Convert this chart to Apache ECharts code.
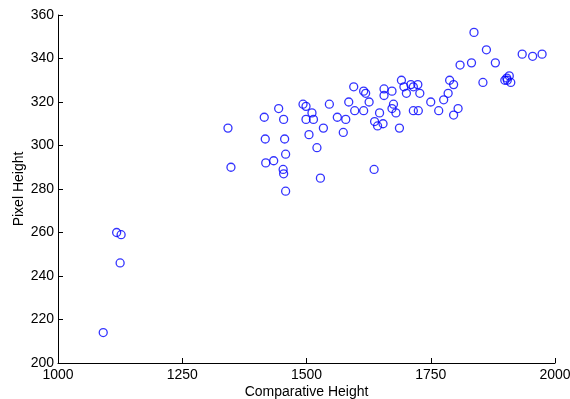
<!DOCTYPE html>
<html>
<head>
<meta charset="utf-8">
<script src="https://cdn.jsdelivr.net/npm/echarts@6/dist/echarts.min.js"></script>
<style>
  html, body { margin: 0; padding: 0; background: #fff; }
  #chart { width: 570px; height: 399px; }
</style>
</head>
<body>
<div id="chart"></div>
<script>
// comparative height vs pixel height, one entry per point
const comparative = [
  1091, 1118, 1127, 1125, 1342, 1348, 1415, 1417, 1418, 1434,
  1444, 1454, 1456, 1458, 1453, 1454, 1458, 1493, 1499, 1511,
  1499, 1514, 1505, 1534, 1521, 1528, 1546, 1562, 1579, 1574,
  1585, 1595, 1597, 1615, 1619, 1626, 1615, 1636, 1637, 1643,
  1654, 1647, 1656, 1656, 1672, 1675, 1672, 1680, 1687, 1691,
  1696, 1701, 1710, 1715, 1724, 1728, 1715, 1725, 1750, 1766,
  1776, 1785, 1788, 1796, 1805, 1796, 1809, 1832, 1837, 1855,
  1862, 1880, 1899, 1903, 1908, 1911, 1904, 1934, 1955, 1974
];
const pixel = [
  214, 260, 259, 246, 308, 290, 313, 303, 292, 293,
  317, 312, 303, 296, 289, 287, 279, 319, 318, 315,
  312, 312, 305, 308, 299, 285, 319, 313, 312, 306,
  320, 327, 316, 325, 324, 320, 316, 289, 311, 309,
  310, 315, 326, 323, 325, 319, 317, 315, 308, 330,
  327, 324, 328, 327, 328, 324, 316, 316, 320, 316,
  321, 324, 330, 328, 317, 314, 337, 338, 352, 329,
  344, 338, 330, 331, 332, 329, 330, 342, 341, 342
];
const xTicks = [1000, 2000, 250];
const yTicks = [200, 360, 20];

const points = comparative.map((x, i) => [x, pixel[i]]);
const font = "'Liberation Sans', Arial, sans-serif";

const chart = echarts.init(document.getElementById('chart'));
chart.setOption({
  animation: false,
  grid: { left: 58, right: 15, top: 15, bottom: 36, containLabel: false, outerBoundsMode: 'none' },
  xAxis: {
    type: 'value',
    min: xTicks[0], max: xTicks[1], interval: xTicks[2],
    name: 'Comparative Height',
    nameLocation: 'middle',
    nameGap: 22,
    nameMoveOverlap: false,
    nameTextStyle: { color: '#000', fontSize: 14, fontFamily: font },
    axisLine: { lineStyle: { color: '#000', width: 1 } },
    axisTick: { inside: true, length: 5, lineStyle: { color: '#000' } },
    axisLabel: { color: '#000', fontSize: 14, fontFamily: font, margin: 5, formatter: v => String(v) },
    splitLine: { show: false }
  },
  yAxis: {
    type: 'value',
    min: yTicks[0], max: yTicks[1], interval: yTicks[2],
    name: 'Pixel Height',
    nameLocation: 'middle',
    nameGap: 32,
    nameMoveOverlap: false,
    nameTextStyle: { color: '#000', fontSize: 14, fontFamily: font },
    axisLine: { show: true, lineStyle: { color: '#000', width: 1 } },
    axisTick: { show: true, inside: true, length: 5, lineStyle: { color: '#000' } },
    axisLabel: { color: '#000', fontSize: 14, fontFamily: font, margin: 4, formatter: v => String(v) },
    splitLine: { show: false }
  },
  series: [{
    type: 'scatter',
    data: points,
    symbol: 'circle',
    symbolSize: 8,
    itemStyle: { color: 'transparent', borderColor: '#0000ff', borderWidth: 1.3 }
  }]
});
</script>
</body>
</html>
